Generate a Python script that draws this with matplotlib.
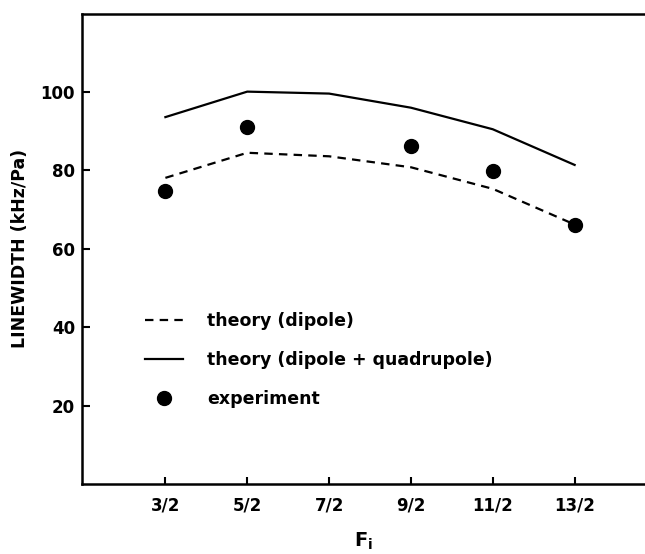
import matplotlib.pyplot as plt
from matplotlib.lines import Line2D

# data
f_labels = ['3/2', '5/2', '7/2', '9/2', '11/2', '13/2']
f_values = [1.5, 2.5, 3.5, 4.5, 5.5, 6.5]
dipole = [78.1, 84.5, 83.6, 80.8, 75.3, 66.2]
dipole_quad = [93.6, 100.1, 99.6, 96.0, 90.5, 81.4]
exp_f = [1.5, 2.5, 4.5, 5.5, 6.5]
exp_width = [74.8, 91.1, 86.2, 79.8, 66.1]

plt.rcParams['font.family'] = 'DejaVu Sans'
plt.rcParams['font.weight'] = 'bold'
plt.rcParams['mathtext.fontset'] = 'dejavusans'

fig = plt.figure(figsize=(6.45, 5.54), dpi=100)
ax = fig.add_axes([0.127, 0.1264, 0.873, 0.849])

ax.plot(f_values, dipole, color='black', lw=1.6, linestyle=(0, (3.8, 2.8)))
ax.plot(f_values, dipole_quad, color='black', lw=1.6)
ax.plot(exp_f, exp_width, 'o', color='black', markersize=10)

ax.set_xlim(0.48, 7.36)
ax.set_ylim(0, 120)
ax.set_xticks(f_values)
ax.set_xticklabels(f_labels)
ax.set_yticks([20, 40, 60, 80, 100])

ax.spines['right'].set_visible(False)
for s in ['left', 'top', 'bottom']:
    ax.spines[s].set_linewidth(1.8)
ax.tick_params(axis='both', direction='in', width=1.5, labelsize=12)
ax.tick_params(axis='x', length=5, pad=9)
ax.tick_params(axis='y', length=6, pad=5)

ax.set_xlabel(r'$\mathbf{F}_\mathbf{i}$', fontsize=14, labelpad=12)
ax.set_ylabel('LINEWIDTH (kHz/Pa)', fontsize=12.5, fontweight='bold', labelpad=8)

handles = [
    Line2D([], [], color='black', lw=1.6, linestyle=(0, (3.8, 2.8))),
    Line2D([], [], color='black', lw=1.6),
    Line2D([], [], color='black', marker='o', linestyle='none', markersize=10),
]
labels = ['theory (dipole)', 'theory (dipole + quadrupole)', 'experiment']
ax.legend(handles, labels, loc='upper left', bbox_to_anchor=(0.112, 0.366),
          frameon=False, borderpad=0, borderaxespad=0, fontsize=12.5,
          handlelength=2.2, handletextpad=1.4, labelspacing=1.22)

plt.savefig('out.png', dpi=100)
